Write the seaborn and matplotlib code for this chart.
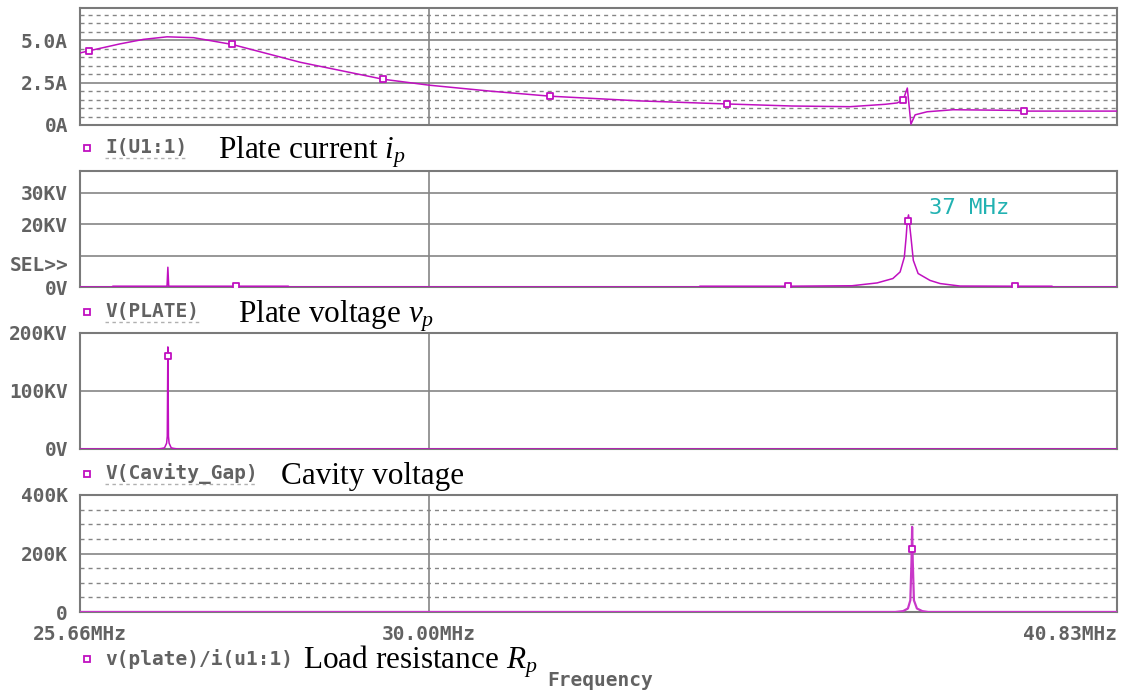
import matplotlib
matplotlib.use("Agg")
import matplotlib.pyplot as plt
import seaborn as sns
from matplotlib.lines import Line2D

# frequency sweep data (MHz)
freq_ip = [25.66, 25.76, 26.12, 26.40, 26.68, 27.00, 27.47, 28.32, 29.39, 30.00, 30.83, 31.67,
           32.98, 34.29, 35.30, 36.23, 36.80, 37.00, 37.10, 37.17, 37.23, 37.30, 37.50, 37.94,
           39.06, 39.16, 40.83]
plate_current = [4.25, 4.37, 4.78, 5.05, 5.20, 5.15, 4.75, 3.70, 2.70, 2.35, 2.00, 1.70,
                 1.42, 1.24, 1.12, 1.08, 1.22, 1.30, 1.47, 2.18, 0.05, 0.60, 0.78, 0.90,
                 0.86, 0.82, 0.82]
ip_mark_f = [25.76, 27.47, 29.39, 31.67, 34.29, 37.10, 39.16]
ip_mark_v = [4.37, 4.75, 2.70, 1.70, 1.24, 1.47, 0.82]

freq_vp = [25.66, 26.03, 26.04, 26.68, 26.69, 26.70, 26.81, 27.52, 28.17, 28.18, 33.86, 33.87,
           35.23, 36.26, 36.67, 36.93, 37.05, 37.12, 37.15, 37.17, 37.19, 37.23, 37.27, 37.35,
           37.55, 37.72, 38.06, 39.01, 39.66, 39.67, 40.83]
plate_voltage = [0, 0, 0.25, 0.25, 6.3, 0.25, 0.25, 0.25, 0.25, 0, 0, 0.25,
                 0.25, 0.4, 1.3, 2.7, 4.8, 9.5, 15.9, 21.2, 23.0, 16.0, 8.5, 4.3,
                 2.1, 1.1, 0.3, 0.25, 0.25, 0, 0]
vp_mark_f = [27.52, 35.23, 37.18, 39.01]
vp_mark_v = [0.25, 0.25, 21.1, 0.25]

freq_gap = [25.66, 26.57, 26.62, 26.65, 26.675, 26.683, 26.69, 26.697, 26.705, 26.73, 26.76, 26.81, 40.83]
gap_voltage = [0, 0, 1, 2, 10, 22, 176, 22, 10, 2, 1, 0, 0]
gap_mark_f = [26.69]
gap_mark_v = [159.6]

freq_rp = [25.66, 36.97, 37.10, 37.18, 37.22, 37.24, 37.25, 37.26, 37.28, 37.33, 37.42, 37.52, 40.83]
load_res = [0, 0, 3, 12, 40, 177, 291, 177, 40, 12, 3, 0, 0]
rp_mark_f = [37.25]
rp_mark_v = [217]

x_ticks = [25.66, 30.00, 40.83]
x_labels = ["25.66MHz", "30.00MHz", "40.83MHz"]

W, H = 1123, 692
MAG = "#c010c0"
GRID = "#858585"
TXT = "#626262"
MONO = "DejaVu Sans Mono"

sns.set_style("white")
plt.rcParams["mathtext.fontset"] = "custom"
plt.rcParams["mathtext.rm"] = "Liberation Serif"
plt.rcParams["mathtext.it"] = "Liberation Serif:italic"

fig = plt.figure(figsize=(W / 100, H / 100), dpi=100)


def px_axes(top, bottom):
    return fig.add_axes([80 / W, 1 - bottom / H, 1037 / W, (bottom - top) / H])


def setup(ax, ylim, yt, ylab, solid, dashed, bottom=False):
    ax.set_xscale("log")
    ax.set_xlim(25.66, 40.83)
    ax.set_ylim(*ylim)
    ax.xaxis.set_minor_locator(plt.NullLocator())
    ax.yaxis.set_minor_locator(plt.NullLocator())
    ax.set_xticks(x_ticks)
    ax.set_yticks(yt)
    ax.set_yticklabels(ylab)
    for v in solid:
        ax.axhline(v, color=GRID, lw=1.2, zorder=1)
    for v in dashed:
        ax.axhline(v, color=GRID, lw=1.0, ls=(0, (2.9, 2.9)), zorder=1)
    ax.axvline(30.0, color=GRID, lw=1.2, zorder=1)
    for s in ax.spines.values():
        s.set_color("#7a7a7a")
        s.set_linewidth(1.5)
    ax.tick_params(axis="y", length=4.3, width=1.3, color="#7a7a7a", pad=4.3,
                   labelsize=14, labelcolor=TXT)
    for t in ax.get_yticklabels():
        t.set_fontfamily(MONO)
        t.set_fontweight("bold")
    if bottom:
        ax.set_xticklabels(x_labels)
        ax.tick_params(axis="x", length=5, width=1.3, color="#7a7a7a", pad=4,
                       labelsize=14, labelcolor=TXT)
        for t in ax.get_xticklabels():
            t.set_fontfamily(MONO)
            t.set_fontweight("bold")
        ax.get_xticklabels()[-1].set_horizontalalignment("right")
        ax.get_xticklabels()[-1].set_x(40.83)
    else:
        ax.tick_params(axis="x", length=0, labelbottom=False)
    ax.set_xlabel("")
    ax.set_ylabel("")


def curve(ax, f, v, mf, mv, color=MAG, lw=1.1):
    sns.lineplot(x=f, y=v, ax=ax, color=color, lw=lw, sort=False, estimator=None, zorder=3)
    sns.scatterplot(x=mf, y=mv, ax=ax, marker="s", s=24, facecolor="white",
                    edgecolor=MAG, linewidth=1.3, zorder=4)


def legend_row(yc, name, serif, sx, ghost=True):
    fig.add_artist(Line2D([87 / W], [1 - yc / H], marker="s", ms=5, mfc="white",
                          mec=MAG, mew=1.3, transform=fig.transFigure))
    fig.text(105 / W, 1 - yc / H, name, family=MONO, weight="bold", size=14,
             color=TXT, ha="left", va="center")
    if ghost:
        # faint dashed underline left over in the screen capture
        x1 = 105 + 11.7 * len(name)
        fig.add_artist(Line2D([105 / W, x1 / W], [1 - (yc + 10) / H] * 2, color="#b0b0b0",
                              lw=1.0, ls=(0, (2.5, 2.5)), transform=fig.transFigure))
    fig.text(sx / W, 1 - (yc + 10) / H, serif, family="Liberation Serif", size=22.5,
             color="black", ha="left", va="baseline")


# panel 1: plate current
ax1 = px_axes(8, 125)
curve(ax1, freq_ip, plate_current, ip_mark_f, ip_mark_v)
setup(ax1, (0, 6.9), [0, 2.5, 5.0], ["0A", "2.5A", "5.0A"], [2.5, 5.0],
      [0.5, 1.0, 1.5, 2.0, 3.0, 3.5, 4.0, 4.5, 5.5, 6.0, 6.5])
legend_row(148, "I(U1:1)", r"Plate current $i_p$", 218)

# panel 2: plate voltage
ax2 = px_axes(171, 287)
curve(ax2, freq_vp, plate_voltage, vp_mark_f, vp_mark_v)
setup(ax2, (0, 37), [0, 20, 30], ["0V", "20KV", "30KV"], [10, 20, 30], [])
ax2.text(-0.0115, 6.8, "SEL>>", transform=ax2.get_yaxis_transform(), ha="right",
         va="center", family=MONO, weight="bold", size=14, color=TXT)
ax2.text(37.54, 25.2, "37 MHz", family=MONO, size=16, color="#22b2b2", ha="left", va="center")
legend_row(312, "V(PLATE)", r"Plate voltage $v_p$", 238)

# panel 3: cavity gap voltage
ax3 = px_axes(333, 449)
curve(ax3, freq_gap, gap_voltage, gap_mark_f, gap_mark_v)
setup(ax3, (0, 200), [0, 100, 200], ["0V", "100KV", "200KV"], [100], [])
legend_row(474, "V(Cavity_Gap)", "Cavity voltage", 281)

# panel 4: load resistance
ax4 = px_axes(495, 612)
curve(ax4, freq_rp, load_res, rp_mark_f, rp_mark_v, color="#c838c8", lw=1.6)
setup(ax4, (0, 400), [0, 200, 400], ["0", "200K", "400K"], [200],
      [50, 100, 150, 250, 300, 350], bottom=True)
legend_row(659, "v(plate)/i(u1:1)", r"Load resistance $R_p$", 303, ghost=False)
fig.text(600 / W, 1 - 681 / H, "Frequency", family=MONO, weight="bold", size=14,
         color=TXT, ha="center", va="center")

fig.savefig("out.png", dpi=100)
